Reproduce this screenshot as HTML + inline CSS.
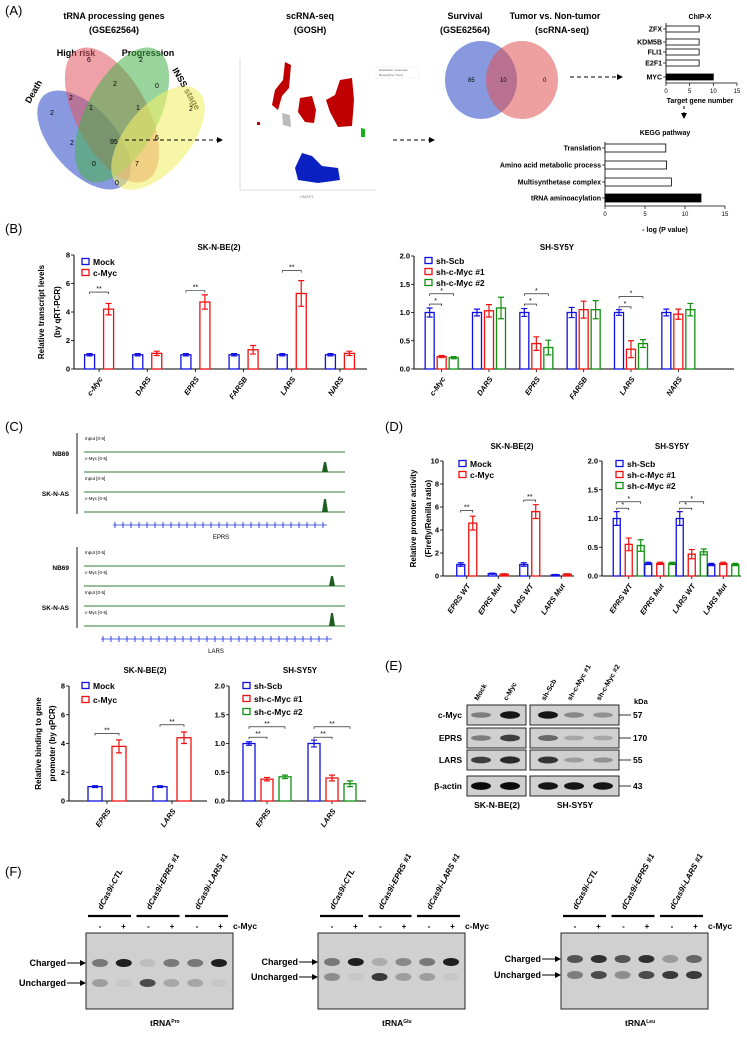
<!DOCTYPE html>
<html><head><meta charset="utf-8"><style>
body{margin:0;background:#fff}
svg{display:block;font-family:"Liberation Sans",Arial,sans-serif}
.b{font-weight:bold}
</style></head><body>
<svg id="fig" width="747" height="1040" viewBox="0 0 747 1040" xmlns="http://www.w3.org/2000/svg">
<defs><marker id="ah" markerWidth="6" markerHeight="6" refX="5" refY="3" orient="auto"><path d="M0,0L6,3L0,6z" fill="#000"/></marker></defs>
<g font-size="13">
<text x="5" y="15">(A)</text>
<text x="5" y="233">(B)</text>
<text x="5" y="431">(C)</text>
<text x="385" y="431">(D)</text>
<text x="385" y="670">(E)</text>
<text x="5" y="876">(F)</text>
</g>
<g font-size="7">
<text x="114" y="19" class="b" font-size="9" text-anchor="middle">tRNA processing genes</text>
<text x="114" y="33" class="b" font-size="9" text-anchor="middle">(GSE62564)</text>
<text x="76" y="56" class="b" font-size="9" text-anchor="middle">High risk</text>
<text x="148" y="56" class="b" font-size="9" text-anchor="middle">Progression</text>
<text x="30" y="104" class="b" font-size="9" transform="rotate(-60 30 104)">Death</text>
<text x="172" y="70" class="b" font-size="9" transform="rotate(60 172 70)">INSS stage</text>
<ellipse cx="84" cy="140" rx="32" ry="60" transform="rotate(-42 84 140)" fill="#3a55c9" fill-opacity="0.6"/>
<ellipse cx="112" cy="115" rx="36" ry="74" transform="rotate(-28 112 115)" fill="#e05560" fill-opacity="0.55"/>
<ellipse cx="122" cy="115" rx="36" ry="74" transform="rotate(28 122 115)" fill="#45b04a" fill-opacity="0.55"/>
<ellipse cx="158" cy="138" rx="32" ry="62" transform="rotate(40 158 138)" fill="#f2ee6a" fill-opacity="0.6"/>
<text x="87" y="62">6</text><text x="139" y="62">2</text><text x="69" y="100">2</text><text x="113" y="86">2</text><text x="155" y="88">0</text>
<text x="50" y="115">2</text><text x="89" y="110">1</text><text x="136" y="110">1</text><text x="189" y="111">2</text>
<text x="70" y="145">2</text><text x="110" y="144">95</text><text x="155" y="140">6</text>
<text x="92" y="166">0</text><text x="135" y="166">7</text><text x="115" y="185">0</text>
</g>
<line x1="125" y1="140" x2="222" y2="140" stroke="#000" stroke-dasharray="4,3" marker-end="url(#ah)"/>
<g>
<text x="310" y="19" class="b" font-size="9" text-anchor="middle">scRNA-seq</text>
<text x="310" y="33" class="b" font-size="9" text-anchor="middle">(GOSH)</text>
<line x1="240" y1="58" x2="240" y2="190" stroke="#bbb" stroke-width="0.5"/><line x1="240" y1="190" x2="376" y2="190" stroke="#bbb" stroke-width="0.5"/>
<path d="M285,62 L291,65 L289,88 L282,96 L278,110 L272,105 L275,90 L283,80z" fill="#c00000"/>
<path d="M300,98 L312,96 L316,110 L314,123 L305,122 L298,112z" fill="#c00000"/>
<path d="M340,80 L352,78 L354,100 L352,126 L338,127 L330,112 L326,100 L335,95z" fill="#c00000"/>
<rect x="257" y="122" width="3" height="3" fill="#c00000"/>
<path d="M282,113 L290,115 L291,127 L283,125z" fill="#bbb"/>
<path d="M361,128 L365,129 L365,137 L361,137z" fill="#1ab01a"/>
<path d="M302,153 L312,156 L322,166 L338,168 L340,180 L318,183 L298,180 L295,168z" fill="#0a20c0"/>
<rect x="376" y="67" width="43" height="11" fill="#fff" stroke="#ddd" stroke-width="0.3"/>
<text x="379" y="71" font-size="2.5" fill="#555">Endothelium / Leukocytes</text>
<text x="379" y="76" font-size="2.5" fill="#555">Mesenchyme / Tumor</text>
<text x="300" y="198" font-size="4" fill="#888">UMAP1</text>
</g>
<line x1="393" y1="140" x2="434" y2="140" stroke="#000" stroke-dasharray="4,3" marker-end="url(#ah)"/>
<g>
<text x="465" y="19" class="b" font-size="9" text-anchor="middle">Survival</text>
<text x="465" y="33" class="b" font-size="9" text-anchor="middle">(GSE62564)</text>
<text x="555" y="19" class="b" font-size="9" text-anchor="middle">Tumor vs. Non-tumor</text>
<text x="562" y="33" class="b" font-size="9" text-anchor="middle">(scRNA-seq)</text>
<ellipse cx="481" cy="80" rx="36" ry="39" fill="#3a55c9" fill-opacity="0.6"/>
<ellipse cx="522" cy="80" rx="36" ry="39" fill="#e05050" fill-opacity="0.55"/>
<text x="468" y="82" font-size="6">85</text><text x="500" y="82" font-size="6">10</text><text x="543" y="82" font-size="6">0</text>
</g>
<line x1="570" y1="77" x2="622" y2="77" stroke="#000" stroke-dasharray="4,3" marker-end="url(#ah)"/>
<line x1="684" y1="106" x2="684" y2="118" stroke="#000" stroke-dasharray="3,3" marker-end="url(#ah)"/>
<g id="chipx"></g>
<g id="kegg"></g>
<g id="bL"></g>
<g id="bR"></g>
<g id="dL"></g>
<g id="dR"></g>
<g id="cL"></g>
<g id="cR"></g>
<g id="tracks" font-size="4.5"></g>
<g id="wb"></g>
<g id="gels"></g>
</svg>
<script>
const NS="http://www.w3.org/2000/svg";
function mk(p,t,a,txt){const e=document.createElementNS(NS,t);for(const k in a)e.setAttribute(k,a[k]);if(txt!==undefined)e.textContent=txt;p.appendChild(e);return e;}

const chipCats=["ZFX","KDM5B","FLI1","E2F1","MYC"];
const chipVals=[7,7,7,7,10];
const chipTicks=[0,5,10,15];
const keggCats=["Translation","Amino acid metabolic process","Multisynthetase complex","tRNA aminoacylation"];
const keggVals=[7.6,7.7,8.3,12];
const keggTicks=[0,5,10,15];

function hbar(id,cats,vals,ticks,x0,x1,ys,bh,title,tx,ty,xlab,xly,axisY,fs){
  const g=document.getElementById(id);
  const sx=v=>x0+(x1-x0)*v/15;
  mk(g,"text",{x:tx,y:ty,"font-size":7,"font-weight":"bold","text-anchor":"middle"},title);
  mk(g,"line",{x1:x0,y1:ys[0]-6,x2:x0,y2:axisY,stroke:"#000","stroke-width":0.8});
  mk(g,"line",{x1:x0,y1:axisY,x2:x1,y2:axisY,stroke:"#000","stroke-width":0.8});
  ticks.forEach(t=>{mk(g,"line",{x1:sx(t),y1:axisY,x2:sx(t),y2:axisY+3,stroke:"#000","stroke-width":0.7});
    mk(g,"text",{x:sx(t),y:axisY+10,"font-size":6,"text-anchor":"middle"},t);});
  cats.forEach((c,i)=>{const y=ys[i];const last=i===cats.length-1;
    const r=mk(g,"rect",{x:x0,y:y-bh/2,width:sx(vals[i])-x0,height:bh,fill:last?"#000":"#fff",stroke:"#000","stroke-width":0.8});
    
    
    mk(g,"line",{x1:x0-3,y1:y,x2:x0,y2:y,stroke:"#000","stroke-width":0.7});
    mk(g,"text",{x:x0-4,y:y+2.5,"font-size":fs,"font-weight":"bold","text-anchor":"end"},c);});
  mk(g,"text",{x:tx,y:xly,"font-size":7,"font-weight":"bold","text-anchor":"middle"},xlab);
}
hbar("chipx",chipCats,chipVals,chipTicks,666,737,[29,42,52,63,77],6,"ChIP-X",700,19,"Target gene number",103,83,7);
hbar("kegg",keggCats,keggVals,keggTicks,605,725,[148,165,182,198],8,"KEGG pathway",665,135,"- log (P value)",232,206,7);

const bLcats=["c-Myc","DARS","EPRS","FARSB","LARS","NARS"];
const bLmock=[1,1,1,1,1,1];
const bLmyc=[4.2,1.1,4.7,1.35,5.3,1.1];
const bLmockErr=[0.08,0.08,0.08,0.08,0.08,0.08];
const bLmycErr=[0.4,0.15,0.5,0.3,0.9,0.15];
const bLticks=[0,2,4,6,8];
const bRcats=["c-Myc","DARS","EPRS","FARSB","LARS","NARS"];
const bRscb=[1,1,1,1,1,1];
const bRsh1=[0.22,1.03,0.45,1.05,0.35,0.97];
const bRsh2=[0.2,1.08,0.38,1.05,0.45,1.05];
const bRscbErr=[0.08,0.06,0.07,0.09,0.05,0.06];
const bRsh1Err=[0.02,0.11,0.12,0.15,0.15,0.09];
const bRsh2Err=[0.02,0.19,0.13,0.16,0.07,0.11];
const bRticks=[0,0.5,1.0,1.5,2.0];
const dLcats=["EPRS WT","EPRS Mut","LARS WT","LARS Mut"];
const dLmock=[1,0.2,1,0.1];
const dLmyc=[4.6,0.15,5.6,0.15];
const dLmockErr=[0.15,0.05,0.15,0.03];
const dLmycErr=[0.6,0.05,0.6,0.05];
const dLticks=[0,2,4,6,8,10];
const dRcats=["EPRS WT","EPRS Mut","LARS WT","LARS Mut"];
const dRscb=[1,0.22,1,0.2];
const dRsh1=[0.55,0.22,0.38,0.22];
const dRsh2=[0.53,0.22,0.42,0.2];
const dRscbErr=[0.12,0.02,0.12,0.02];
const dRsh1Err=[0.11,0.02,0.08,0.02];
const dRsh2Err=[0.1,0.02,0.05,0.02];
const dRticks=[0,0.5,1.0,1.5,2.0];
const cLcats=["EPRS","LARS"];
const cLmock=[1,1];
const cLmyc=[3.8,4.4];
const cLmockErr=[0.06,0.06];
const cLmycErr=[0.45,0.4];
const cLticks=[0,2,4,6,8];
const cRcats=["EPRS","LARS"];
const cRscb=[1,1];
const cRsh1=[0.38,0.4];
const cRsh2=[0.42,0.3];
const cRscbErr=[0.03,0.06];
const cRsh1Err=[0.03,0.05];
const cRsh2Err=[0.03,0.05];
const cRticks=[0,0.5,1.0,1.5,2.0];

const BLUE="#1010e0",RED="#f01010",GREEN="#109010";
function vbar(o){
  const g=document.getElementById(o.id);
  const sy=v=>o.yb-(o.yb-o.yt)*v/o.max;
  const n=o.cats.length,gw=(o.x1-o.x0)/n,ns=o.series.length;
  mk(g,"text",{x:o.tx,y:o.ty,"font-size":8,"font-weight":"bold","text-anchor":"middle"},o.title);
  mk(g,"line",{x1:o.ax,y1:o.yt,x2:o.ax,y2:o.yb,stroke:"#000","stroke-width":1});
  mk(g,"line",{x1:o.ax,y1:o.yb,x2:o.axEnd,y2:o.yb,stroke:"#000","stroke-width":1});
  o.ticks.forEach(t=>{const y=sy(t);mk(g,"line",{x1:o.ax-3,y1:y,x2:o.ax,y2:y,stroke:"#000","stroke-width":0.8});
    mk(g,"text",{x:o.ax-4,y:y+2.7,"font-size":7.5,"font-weight":"bold","text-anchor":"end"},o.dec?t.toFixed(1):t);});
  o.cats.forEach((c,i)=>{const cx=o.x0+(i+0.5)*gw;
    mk(g,"line",{x1:cx,y1:o.yb,x2:cx,y2:o.yb+3,stroke:"#000","stroke-width":0.8});
    mk(g,"text",{x:cx+4,y:o.yb+10,"font-size":7.5,"font-weight":"bold","font-style":"italic","text-anchor":"end",transform:`rotate(-55 ${cx+4} ${o.yb+10})`},c);
    o.series.forEach((s,j)=>{const x=cx+(j-(ns-1)/2)*o.sp;const v=s.v[i],e=s.e[i];
      const r=mk(g,"rect",{x:x-o.bw/2,y:sy(v),width:o.bw,height:o.yb-sy(v),fill:"#fff",stroke:s.c,"stroke-width":1.3});
      
      
      mk(g,"path",{d:`M${x},${sy(v+e)}V${sy(Math.max(v-e,0))}M${x-3},${sy(v+e)}h6M${x-3},${sy(Math.max(v-e,0))}h6`,stroke:s.c,"stroke-width":1.2,fill:"none"});});
    (o.sig[i]||[]).forEach(sg=>{const xa=cx+(sg[0]-(ns-1)/2)*o.sp,xb=cx+(sg[1]-(ns-1)/2)*o.sp,y=sy(sg[2]);
      mk(g,"path",{d:`M${xa},${y+2}V${y}H${xb}V${y+2}`,stroke:"#000","stroke-width":0.6,fill:"none"});
      mk(g,"text",{x:(xa+xb)/2,y:y-1,"font-size":7,"text-anchor":"middle"},sg[3]);});
  });
  o.series.forEach((s,j)=>{const y=o.ly+j*o.lstep;
    const r=mk(g,"rect",{x:o.lx,y:y-6.5,width:7,height:6,fill:"#fff",stroke:s.c,"stroke-width":1.3});
    
    
    mk(g,"text",{x:o.lx+11,y:y,"font-size":8.5,"font-weight":"bold"},s.l);});
  if(o.ylab){o.ylab.forEach((t,k)=>{const x=o.ylx+k*(o.ylstep||9);mk(g,"text",{x:x,y:(o.yt+o.yb)/2,"font-size":8,"font-weight":"bold","text-anchor":"middle",transform:`rotate(-90 ${x} ${(o.yt+o.yb)/2})`},t);});}
}
vbar({id:"bL",cats:bLcats,series:[{v:bLmock,e:bLmockErr,c:BLUE,l:"Mock",n:"mock"},{v:bLmyc,e:bLmycErr,c:RED,l:"c-Myc",n:"c-myc"}],
  max:8,ticks:bLticks,x0:75,x1:364,ax:74,axEnd:367,yt:255,yb:369,bw:10,sp:19,title:"SK-N-BE(2)",tx:219,ty:250,lx:82,ly:265,lstep:11,
  sig:{0:[[0,1,5.4,"**"]],2:[[0,1,5.5,"**"]],4:[[0,1,6.9,"**"]]},ylab:["Relative transcript levels","(by qRT-PCR)"],ylx:44,ylstep:16});
vbar({id:"bR",cats:bRcats,series:[{v:bRscb,e:bRscbErr,c:BLUE,l:"sh-Scb",n:"sh-scb"},{v:bRsh1,e:bRsh1Err,c:RED,l:"sh-c-Myc #1",n:"sh1"},{v:bRsh2,e:bRsh2Err,c:GREEN,l:"sh-c-Myc #2",n:"sh2"}],
  max:2,ticks:bRticks,x0:418,x1:702,ax:414,axEnd:734,yt:256,yb:369,bw:9,sp:12,title:"SH-SY5Y",tx:557,ty:250,lx:425,ly:264,lstep:11,dec:true,
  sig:{0:[[0,1,1.15,"*"],[0,2,1.33,"*"]],2:[[0,1,1.15,"*"],[0,2,1.33,"*"]],4:[[0,1,1.1,"*"],[0,2,1.28,"*"]]}});
vbar({id:"dL",cats:dLcats,series:[{v:dLmock,e:dLmockErr,c:BLUE,l:"Mock",n:"mock"},{v:dLmyc,e:dLmycErr,c:RED,l:"c-Myc",n:"c-myc"}],
  max:10,ticks:dLticks,x0:451,x1:577,ax:443,axEnd:574,yt:461,yb:576,bw:8,sp:12,title:"SK-N-BE(2)",tx:512,ty:449,lx:459,ly:467,lstep:11,
  sig:{0:[[0,1,5.7,"**"]],2:[[0,1,6.6,"**"]]},ylab:["Relative promoter activity","(Firefly/Renilla ratio)"],ylx:416,ylstep:15});
vbar({id:"dR",cats:dRcats,series:[{v:dRscb,e:dRscbErr,c:BLUE,l:"sh-Scb",n:"sh-scb"},{v:dRsh1,e:dRsh1Err,c:RED,l:"sh-c-Myc #1",n:"sh1"},{v:dRsh2,e:dRsh2Err,c:GREEN,l:"sh-c-Myc #2",n:"sh2"}],
  max:2,ticks:dRticks,x0:613,x1:739,ax:602,axEnd:741,yt:461,yb:576,bw:7,sp:12,title:"SH-SY5Y",tx:672,ty:449,lx:616,ly:467,lstep:11,dec:true,
  sig:{0:[[0,1,1.18,"*"],[0,2,1.29,"*"]],2:[[0,1,1.18,"*"],[0,2,1.29,"*"]]}});
vbar({id:"cL",cats:cLcats,series:[{v:cLmock,e:cLmockErr,c:BLUE,l:"Mock",n:"mock"},{v:cLmyc,e:cLmycErr,c:RED,l:"c-Myc",n:"c-myc"}],
  max:8,ticks:cLticks,x0:74.5,x1:204.5,ax:69,axEnd:207,yt:686,yb:801,bw:14,sp:24,title:"SK-N-BE(2)",tx:145,ty:673,lx:82,ly:689,lstep:14,
  sig:{0:[[0,1,4.7,"**"]],1:[[0,1,5.3,"**"]]},ylab:["Relative binding to gene","promoter (by qPCR)"],ylx:41,ylstep:14});
vbar({id:"cR",cats:cRcats,series:[{v:cRscb,e:cRscbErr,c:BLUE,l:"sh-Scb",n:"sh-scb"},{v:cRsh1,e:cRsh1Err,c:RED,l:"sh-c-Myc #1",n:"sh1"},{v:cRsh2,e:cRsh2Err,c:GREEN,l:"sh-c-Myc #2",n:"sh2"}],
  max:2,ticks:cRticks,x0:234.5,x1:364.5,ax:229,axEnd:366,yt:686,yb:801,bw:12,sp:18,title:"SH-SY5Y",tx:300,ty:673,lx:243,ly:689,lstep:13,dec:true,
  sig:{0:[[0,1,1.11,"**"],[0,2,1.29,"**"]],1:[[0,1,1.11,"**"],[0,2,1.29,"**"]]}});

(function(){const g=document.getElementById("tracks");
 const blocks=[{y:437,gene:"EPRS",gx0:113,gx1:327,px:325,lx:221},{y:551,gene:"LARS",gx0:101,gx1:332,px:332,lx:216}];
 blocks.forEach((b)=>{
  ["NB69","SK-N-AS"].forEach((cell,ci)=>{const y=b.y+ci*40;
    mk(g,"line",{x1:77,y1:y-4,x2:77,y2:y+37,stroke:"#000","stroke-width":0.9});
    mk(g,"text",{x:69,y:y+19,"font-size":6.5,"font-weight":"bold","text-anchor":"end"},cell);
    ["Input [0-5]","c-Myc [0-5]"].forEach((l,k)=>{const yy=y+k*20;
      mk(g,"text",{x:85,y:yy+3},l);
      mk(g,"line",{x1:84,y1:yy+15,x2:345,y2:yy+15,stroke:"#2e7d32","stroke-width":0.9});
      if(k===1){mk(g,"path",{d:`M${b.px-3},${yy+15}L${b.px-1},${yy+15-(ci?13:10)}L${b.px+1},${yy+15-(ci?13:10)}L${b.px+3},${yy+15}z`,fill:"#1b5e20"});}
    });});
  const gy=b.y+88;mk(g,"line",{x1:b.gx0,y1:gy,x2:b.gx1,y2:gy,stroke:"#2233dd","stroke-width":0.8});
  for(let x=b.gx0+2;x<b.gx1-2;x+=8)mk(g,"line",{x1:x,y1:gy-3,x2:x,y2:gy+3,stroke:"#2233dd","stroke-width":0.9});
  mk(g,"text",{x:b.lx,y:gy+14,"font-size":6,"text-anchor":"middle"},b.gene);
 });})();

const wbRows=["c-Myc","EPRS","LARS","β-actin"];
const wbKda=["57","170","55","43"];
const wbLanes=["Mock","c-Myc","sh-Scb","sh-c-Myc #1","sh-c-Myc #2"];
const wbInt=[[0.4,0.9,0.9,0.35,0.3],[0.4,0.7,0.5,0.2,0.2],[0.7,0.8,0.75,0.25,0.3],[0.95,0.95,0.9,0.9,0.9]];
(function(){const g=document.getElementById("wb");const ys=[715,738,760,786];const lx=[481,510,548,574,603];
 wbLanes.forEach((l,i)=>mk(g,"text",{x:lx[i]-3,y:701,"font-size":7,"font-weight":"bold",transform:`rotate(-60 ${lx[i]-3} 701)`},l));
 mk(g,"text",{x:634,y:704,"font-size":7.5,"font-weight":"bold"},"kDa");
 wbRows.forEach((r,ri)=>{const y=ys[ri];
  mk(g,"rect",{x:467,y:y-10,width:59,height:20,fill:"#d0d0d0",stroke:"#111","stroke-width":0.9});
  mk(g,"rect",{x:530,y:y-10,width:89,height:20,fill:"#d0d0d0",stroke:"#111","stroke-width":0.9});
  wbInt[ri].forEach((v,i)=>mk(g,"ellipse",{cx:lx[i],cy:y,rx:10,ry:2+2*v,fill:"#000","fill-opacity":v}));
  mk(g,"text",{x:462,y:y+3,"font-size":8.5,"font-weight":"bold","text-anchor":"end"},r);
  mk(g,"line",{x1:619,y1:y,x2:631,y2:y,stroke:"#000","stroke-width":0.8});
  mk(g,"text",{x:633,y:y+3,"font-size":8.5,"font-weight":"bold"},wbKda[ri]);});
 mk(g,"text",{x:497,y:808,"font-size":8.5,"font-weight":"bold","text-anchor":"middle"},"SK-N-BE(2)");
 mk(g,"text",{x:575,y:808,"font-size":8.5,"font-weight":"bold","text-anchor":"middle"},"SH-SY5Y");})();

const gelGroups=["dCas9i-CTL","dCas9i-EPRS #1","dCas9i-LARS #1"];
const gelTitles=["Pro","Glu","Leu"];
const gelCharged=[[0.5,1,0.1,0.5,0.5,1],[0.5,1,0.2,0.4,0.5,1],[0.7,0.9,0.7,0.9,0.3,0.6]];
const gelUncharged=[[0.3,0.05,0.8,0.25,0.25,0.05],[0.4,0.05,0.9,0.3,0.3,0.05],[0.5,0.8,0.4,0.8,0.9,0.9]];
(function(){const g=document.getElementById("gels");const X=[86,318,561];
 X.forEach((x0,gi)=>{const cy=[963,962,959][gi],uy=[983,977,975][gi];
  gelGroups.forEach((gg,k)=>{const bx=x0+2+k*48.5;
   mk(g,"line",{x1:bx,y1:916,x2:bx+43,y2:916,stroke:"#000","stroke-width":2.2});
   mk(g,"text",{x:bx+14,y:910,"font-size":8,"font-weight":"bold","font-style":"italic",transform:`rotate(-62 ${bx+14} 910)`},gg);
   ["-","+"].forEach((s,j)=>mk(g,"text",{x:bx+12+j*23.5,y:929,"font-size":8,"font-weight":"bold","text-anchor":"middle"},s));});
  mk(g,"text",{x:x0+147,y:929,"font-size":8.5,"font-weight":"bold"},"c-Myc");
  mk(g,"rect",{x:x0,y:933,width:147,height:76,fill:"#d0d0d0",stroke:"#111","stroke-width":0.9});
  for(let i=0;i<6;i++){const lx=x0+14+i*23.8;
   mk(g,"ellipse",{cx:lx,cy:cy,rx:8,ry:4,fill:"#000","fill-opacity":gelCharged[gi][i]*0.85});
   mk(g,"ellipse",{cx:lx,cy:uy,rx:8,ry:4,fill:"#000","fill-opacity":gelUncharged[gi][i]*0.8});}
  mk(g,"text",{x:x0-20,y:cy+3,"font-size":9,"font-weight":"bold","text-anchor":"end"},"Charged");
  mk(g,"line",{x1:x0-19,y1:cy,x2:x0-1,y2:cy,stroke:"#000","marker-end":"url(#ah)"});
  mk(g,"text",{x:x0-20,y:uy+3,"font-size":9,"font-weight":"bold","text-anchor":"end"},"Uncharged");
  mk(g,"line",{x1:x0-19,y1:uy,x2:x0-1,y2:uy,stroke:"#000","marker-end":"url(#ah)"});
  const t=mk(g,"text",{x:x0+64,y:1026,"font-size":8.5,"font-weight":"bold"},"tRNA");
  mk(t,"tspan",{"font-size":5,dy:-3},gelTitles[gi]);
 });})();
</script>
</body></html>
